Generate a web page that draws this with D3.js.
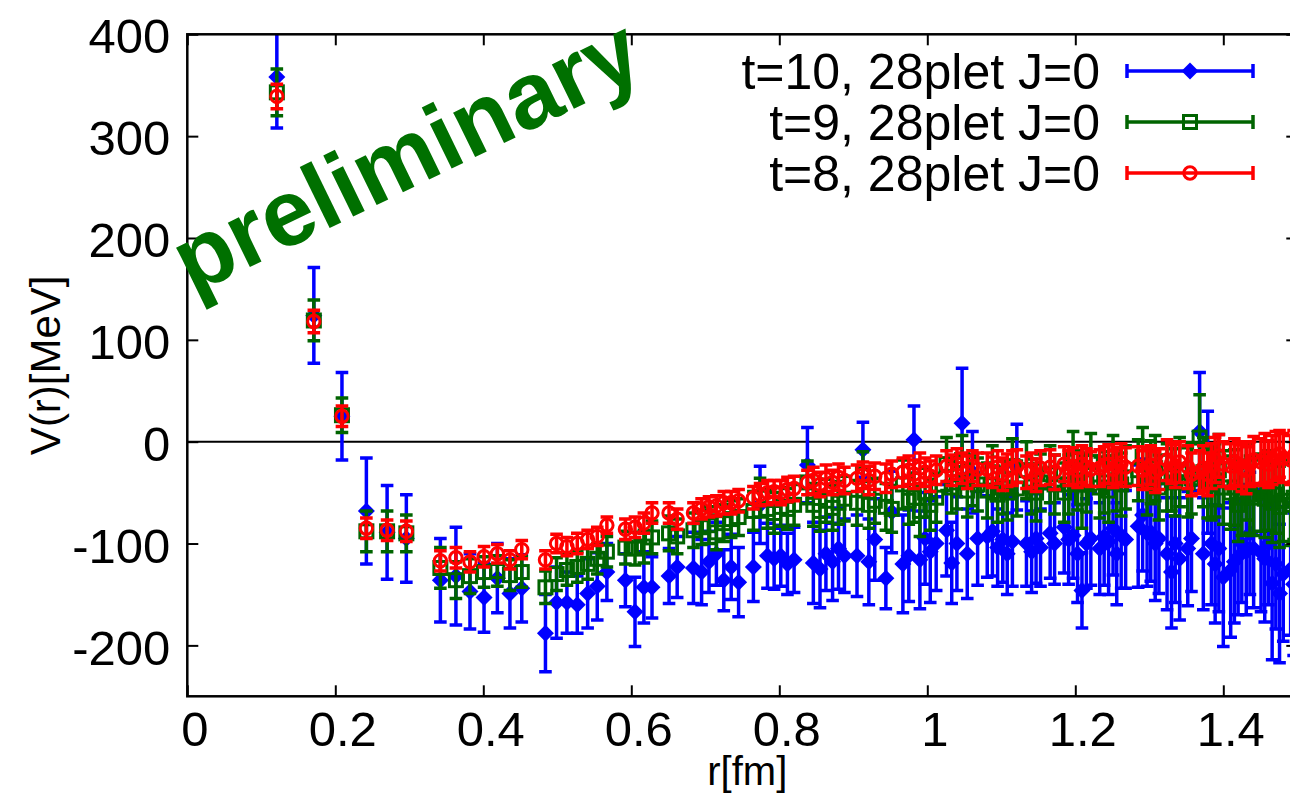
<!DOCTYPE html>
<html>
<head>
<meta charset="utf-8">
<script src="https://cdn.jsdelivr.net/npm/d3@7"></script>
<style>
  html, body { margin: 0; padding: 0; background: #fff; }
  svg { display: block; }
  text { font-family: "Liberation Sans", Arial, Helvetica, sans-serif; }
</style>
</head>
<body>
<svg id="chart" width="1290" height="794"></svg>
<script>
// Lattice distances r [fm]
const rFm = [0.121,0.171,0.209,0.242,0.270,0.296,0.342,0.363,0.382,0.401,0.419,0.436,0.452,
  0.484,0.499,0.513,0.527,0.541,0.554,0.567,
  0.592,0.605,0.617,0.628,
  0.651,0.662,
  0.684,0.695,0.705,0.715,0.725,0.735,0.745,
  0.765,0.774,0.784,0.793,0.802,0.811,0.820,
  0.838,0.846,0.855,0.863,0.872,0.880,0.888,
  0.905,0.913,0.921,0.929,
  0.944,0.952,
  0.967,0.975,0.982,0.990,0.997,1.004,1.012,
  1.026,1.033,1.040,1.047,1.054,1.061,1.068,
  1.081,1.088,1.095,1.102,1.108,1.115,1.121,
  1.134,1.141,1.147,1.153,
  1.166,1.172,
  1.185,1.191,1.197,1.203,1.209,1.215,1.221,
  1.233,1.239,1.245,1.251,1.256,1.262,1.268,
  1.285,1.291,1.297,1.302,1.308,1.313,
  1.324,1.330,1.335,1.341,
  1.352,1.357,
  1.368,1.373,1.379,1.384,1.389,1.394,1.400,
  1.410,1.415,1.420,1.425,1.431,1.436,1.441,
  1.451,1.456,1.461,1.466,1.471,1.476,1.481,
  1.491,1.495];

// t=10 potential V(r) [MeV] and its statistical error
const vT10 = [358,124,25,-68,-89,-95,-136,-132,-147,-153,-134,-149,-144,
  -188,-158,-158,-160,-149,-142,-128,
  -136,-167,-143,-143,
  -132,-123,
  -124,-128,-118,-110,-136,-123,-138,
  -123,-62,-112,-115,-112,-120,-116,
  -23,-119,-125,-110,-118,-105,-112,
  -112,-8,-118,-96,
  -134,-69,
  -120,-112,2,-116,-95,-108,-100,
  -87,-119,-100,18,-110,-30,-95,
  -93,-88,-104,-96,-110,-98,-25,
  -100,-108,-95,-104,
  -90,-100,
  -84,-96,-92,-110,-146,-100,-95,
  -105,-93,-98,-85,-110,-92,-96,
  -83,-72,-90,-89,-100,-95,
  -110,-128,-100,-115,
  -105,-95,
  10,-110,-30,-100,-120,-105,-133,
  -126,-118,-113,-100,-108,-90,-105,
  -109,-115,-100,-139,-120,-149,-130,
  -125,-140];
const eT10 = [50,47,43,52,46,43,41,48,37,34,34,34,33,
  38,35,30,28,34,33,28,
  26,34,35,30,
  27,30,
  35,32,30,31,30,32,34,
  34,38,32,30,30,30,32,
  37,40,38,36,38,40,36,
  40,27,42,40,
  30,40,
  48,45,33,48,45,50,46,
  45,40,46,54,44,40,46,
  40,44,38,42,40,44,42,
  42,40,44,38,
  44,40,
  45,44,42,48,37,44,46,
  45,48,52,46,50,52,48,
  60,55,52,48,56,54,
  55,55,58,60,
  56,52,
  58,55,60,60,58,62,68,
  66,60,57,58,62,60,58,
  58,62,60,75,64,68,66,
  65,70];

// t=9
const vT9 = [343,119,26,-88,-88,-90,-124,-136,-132,-128,-127,-131,-128,
  -143,-130,-126,-123,-120,-115,-108,
  -104,-105,-103,-94,
  -90,-93,
  -87,-84,-82,-89,-80,-76,-74,
  -68,-55,-66,-70,-64,-66,-62,
  -40,-62,-68,-58,-65,-60,-56,
  -60,-32,-62,-58,
  -64,-66,
  -42,-58,-55,-68,-50,-62,-55,
  -22,-45,-40,-18,-48,-38,-42,
  -48,-30,-52,-45,-50,-24,-46,
  -28,-44,-50,-40,
  -32,-42,
  -50,-42,-18,-38,-55,-40,-20,
  -45,-40,-48,-20,-38,-42,-35,
  -28,-15,-40,-30,-26,-45,
  -35,-34,-40,-30,
  -40,-36,
  4,-30,-40,-42,-38,-28,-45,
  -50,-45,-62,-55,-40,-52,-55,
  -50,-56,-48,-60,-52,-64,-58,
  -62,-55];
const eT9 = [23,20,17,20,20,18,20,18,17,15,15,15,15,
  16,16,15,15,15,15,15,
  16,16,16,16,
  17,17,
  17,17,18,17,18,18,18,
  19,19,19,20,19,20,20,
  21,21,20,21,22,21,22,
  22,22,23,22,
  23,23,
  24,23,24,25,24,25,24,
  26,25,26,24,26,25,26,
  27,26,27,26,27,27,27,
  28,27,28,28,
  28,29,
  29,29,28,29,30,29,28,
  30,30,31,26,30,31,31,
  30,29,32,31,32,32,
  33,34,33,34,
  34,35,
  42,34,35,35,36,35,36,
  36,37,36,37,37,38,37,
  38,38,39,39,38,40,40,
  40,41];

// t=8
const vT8 = [339,118,25,-85,-87,-88,-117,-114,-118,-113,-110,-116,-106,
  -116,-100,-103,-100,-96,-93,-82,
  -86,-84,-80,-70,
  -70,-76,
  -70,-66,-64,-63,-60,-60,-58,
  -55,-52,-50,-49,-50,-47,-46,
  -40,-38,-42,-36,-40,-35,-38,
  -36,-33,-38,-34,
  -36,-32,
  -30,-28,-32,-26,-30,-34,-28,
  -24,-28,-22,-26,-30,-24,-27,
  -27,-30,-25,-32,-28,-26,-24,
  -30,-28,-33,-26,
  -25,-30,
  -22,-26,-24,-28,-22,-25,-27,
  -26,-23,-22,-27,-24,-21,-25,
  -24,-28,-26,-23,-30,-27,
  -18,-21,-24,-20,
  -25,-32,
  -30,-26,-32,-24,-18,-14,-22,
  -24,-20,-22,-26,-28,-22,-18,
  -20,-16,-22,-18,-14,-12,-16,
  -18,-14];
const eT8 = [12,11,10,10,10,10,10,10,10,10,9,9,9,
  9,9,9,10,9,9,8,
  10,10,10,10,
  10,10,
  10,10,10,10,11,11,11,
  11,11,12,11,12,12,12,
  12,13,12,13,12,13,13,
  13,13,14,13,
  14,13,
  14,14,14,15,14,15,14,
  15,15,15,15,16,15,16,
  16,15,16,16,16,17,16,
  16,17,16,17,
  17,17,
  17,17,18,17,18,18,17,
  18,18,19,18,18,19,19,
  19,19,20,19,20,20,
  20,20,21,20,
  21,21,
  21,22,21,22,22,21,22,
  22,23,22,23,23,22,23,
  23,24,23,24,24,23,24,
  24,25];

const seriesLabels = ["t=10, 28plet J=0", "t=9, 28plet J=0", "t=8, 28plet J=0"];
const xTicks = [0, 0.2, 0.4, 0.6, 0.8, 1, 1.2, 1.4];
const xTickLabels = ["0", "0.2", "0.4", "0.6", "0.8", "1", "1.2", "1.4"];
const yTicks = [-200, -100, 0, 100, 200, 300, 400];
const yTickLabels = ["-200", "-100", "0", "100", "200", "300", "400"];

const svg = d3.select("#chart");
const plotLeft = 187.3, plotTop = 34.3, plotW = 1110, plotH = 662;

const x = d3.scaleLinear().domain([0, 1.5]).range([plotLeft, plotLeft + plotW]);
const y = d3.scaleLinear().domain([-250, 400]).range([plotTop + plotH, plotTop]);

svg.append("defs").append("clipPath").attr("id", "plotClip")
  .append("rect").attr("x", plotLeft).attr("y", plotTop).attr("width", plotW).attr("height", plotH);

// zero line
svg.append("line")
  .attr("x1", x(0)).attr("x2", x(1.5)).attr("y1", y(0)).attr("y2", y(0))
  .attr("stroke", "#000").attr("stroke-width", 2);

const series = [
  { v: vT10, e: eT10, color: "#0000ff", marker: "diamond" },
  { v: vT9,  e: eT9,  color: "#006400", marker: "square" },
  { v: vT8,  e: eT8,  color: "#ff0000", marker: "circle" }
];

function drawMarker(g, kind, color, cx, cy) {
  if (kind === "diamond") {
    g.append("path")
      .attr("d", `M${cx},${cy - 8.5}L${cx + 8.5},${cy}L${cx},${cy + 8.5}L${cx - 8.5},${cy}Z`)
      .attr("fill", color);
  } else if (kind === "square") {
    g.append("rect")
      .attr("x", cx - 6.5).attr("y", cy - 6.5).attr("width", 13).attr("height", 13)
      .attr("fill", "none").attr("stroke", color).attr("stroke-width", 3);
  } else {
    g.append("circle")
      .attr("cx", cx).attr("cy", cy).attr("r", 6.2)
      .attr("fill", "none").attr("stroke", color).attr("stroke-width", 3);
  }
}

const dataLayer = svg.append("g").attr("clip-path", "url(#plotClip)");
series.forEach(s => {
  const g = dataLayer.append("g");
  rFm.forEach((r, i) => {
    const cx = x(r), y0 = y(s.v[i] - s.e[i]), y1 = y(s.v[i] + s.e[i]);
    g.append("path")
      .attr("d", `M${cx},${y0}L${cx},${y1}M${cx - 6.3},${y0}L${cx + 6.3},${y0}M${cx - 6.3},${y1}L${cx + 6.3},${y1}`)
      .attr("stroke", s.color).attr("stroke-width", 3.5).attr("fill", "none");
    drawMarker(g, s.marker, s.color, cx, y(s.v[i]));
  });
});

// frame
svg.append("rect")
  .attr("x", plotLeft).attr("y", plotTop).attr("width", plotW).attr("height", plotH)
  .attr("fill", "none").attr("stroke", "#000").attr("stroke-width", 2.5);

const tickLen = 11;
const fontSize = 49;

const xAxis = svg.append("g").attr("transform", `translate(0,${plotTop + plotH})`)
  .call(d3.axisBottom(x).tickValues(xTicks).tickFormat((d, i) => xTickLabels[i])
    .tickSizeInner(-tickLen).tickSizeOuter(0).tickPadding(15));
xAxis.select(".domain").remove();
xAxis.selectAll("line").attr("stroke", "#000").attr("stroke-width", 2);
xAxis.selectAll("text").attr("font-size", fontSize).attr("fill", "#000")
  .attr("font-family", "Liberation Sans, Arial, sans-serif").attr("dx", 7);

const xTop = svg.append("g").attr("transform", `translate(0,${plotTop})`)
  .call(d3.axisTop(x).tickValues(xTicks).tickFormat("").tickSizeInner(-tickLen).tickSizeOuter(0));
xTop.select(".domain").remove();
xTop.selectAll("line").attr("stroke", "#000").attr("stroke-width", 2);

const yAxis = svg.append("g").attr("transform", `translate(${plotLeft},0)`)
  .call(d3.axisLeft(y).tickValues(yTicks).tickFormat((d, i) => yTickLabels[i])
    .tickSizeInner(-tickLen).tickSizeOuter(0).tickPadding(17));
yAxis.select(".domain").remove();
yAxis.selectAll("line").attr("stroke", "#000").attr("stroke-width", 2);
yAxis.selectAll("text").attr("font-size", fontSize).attr("fill", "#000")
  .attr("font-family", "Liberation Sans, Arial, sans-serif").attr("dy", "0.38em");

const yRight = svg.append("g").attr("transform", `translate(${plotLeft + plotW},0)`)
  .call(d3.axisRight(y).tickValues(yTicks).tickFormat("").tickSizeInner(-tickLen).tickSizeOuter(0));
yRight.select(".domain").remove();
yRight.selectAll("line").attr("stroke", "#000").attr("stroke-width", 2);

// axis titles
svg.append("text")
  .attr("transform", `translate(60,${y(75)}) rotate(-90)`)
  .attr("text-anchor", "middle").attr("font-size", 42).text("V(r)[MeV]");
svg.append("text")
  .attr("x", x(0.75) + 5).attr("y", 785)
  .attr("text-anchor", "middle").attr("font-size", 40).text("r[fm]");

// legend
const legendRowY = [71, 122, 173];
series.forEach((s, i) => {
  const ly = legendRowY[i];
  svg.append("text")
    .attr("x", 1100).attr("y", ly + 18)
    .attr("text-anchor", "end").attr("font-size", 50).text(seriesLabels[i]);
  const g = svg.append("g");
  g.append("path")
    .attr("d", `M1127,${ly}L1253,${ly}M1127,${ly - 7}L1127,${ly + 7}M1253,${ly - 7}L1253,${ly + 7}`)
    .attr("stroke", s.color).attr("stroke-width", 3.5).attr("fill", "none");
  drawMarker(g, s.marker, s.color, 1190, ly);
});

// watermark
svg.append("text")
  .attr("transform", "translate(420,184) rotate(-26)")
  .attr("text-anchor", "middle")
  .attr("font-size", 94).attr("font-weight", "bold")
  .attr("fill", "#007000").text("preliminary");
</script>
</body>
</html>
